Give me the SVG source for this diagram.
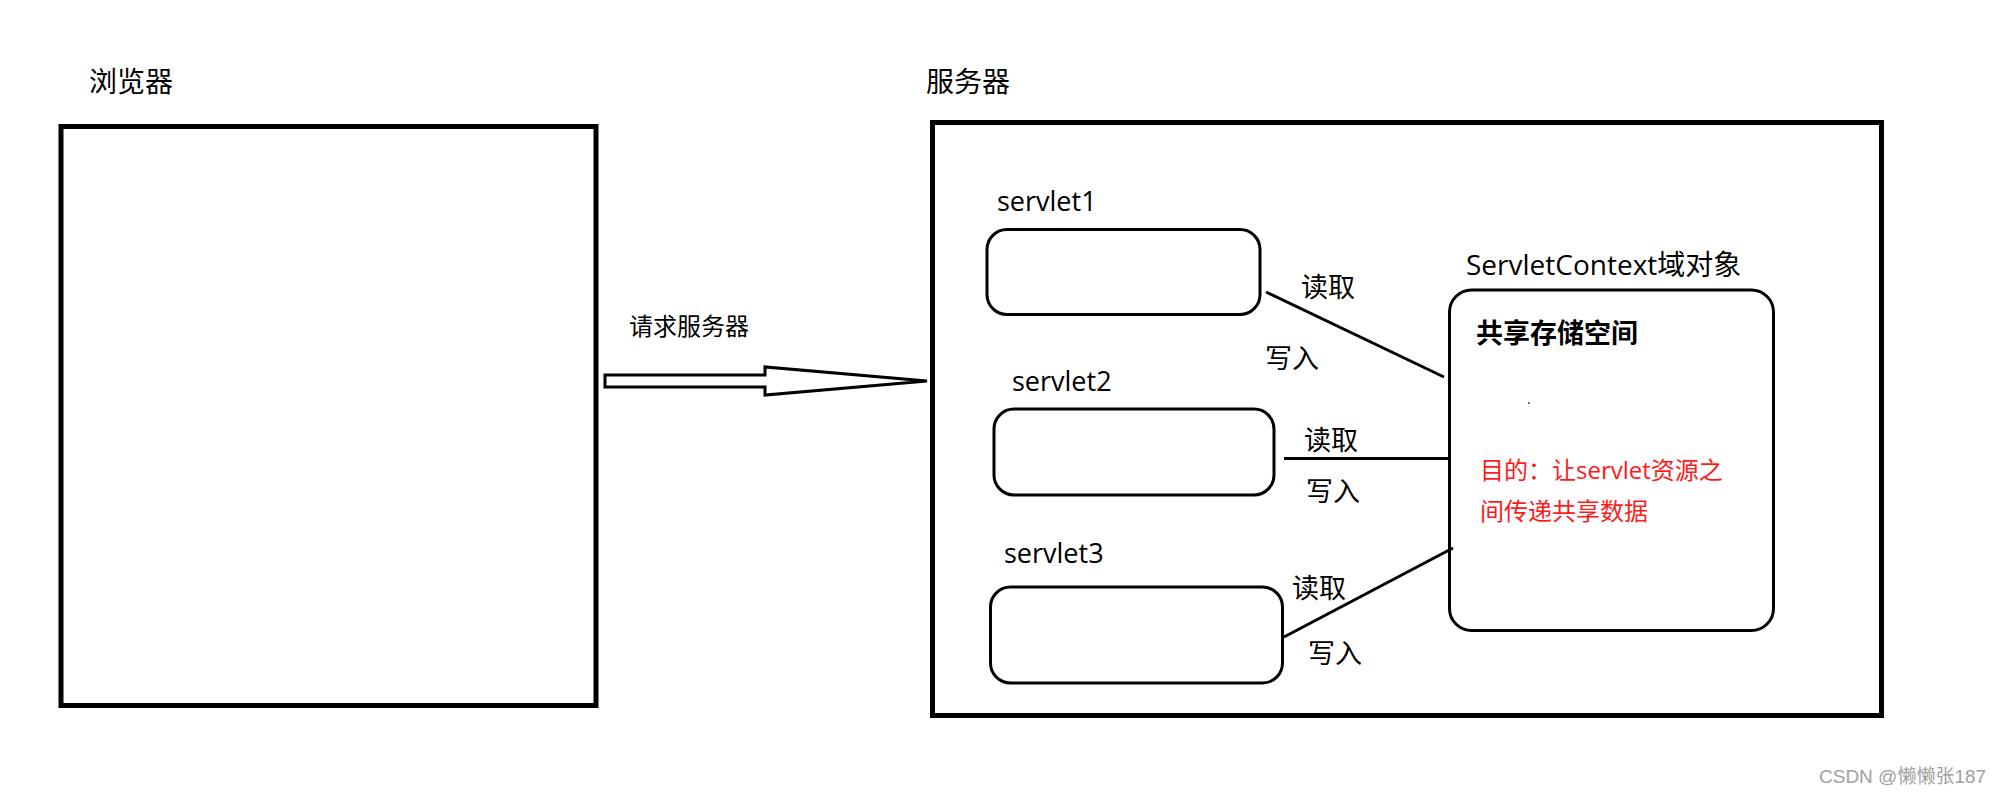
<svg xmlns="http://www.w3.org/2000/svg" width="2001" height="794" viewBox="0 0 2001 794">
<style>
.t{font-family:"Open Sans","Noto Sans CJK SC",sans-serif;font-size:27px;fill:#000}
.h{font-size:28px}
.s{font-size:24px}
.b{font-weight:bold}
.red{fill:#ff1a1a;font-size:24px}
.box{fill:#fff;stroke:#000;stroke-width:5}
.rr{fill:#fff;stroke:#000;stroke-width:3}
.ln{stroke:#000;stroke-width:3;fill:none}
.wm{font-family:"Liberation Sans","Noto Sans CJK SC",sans-serif;font-size:19px;fill:#a0a0a0}
</style>
<rect width="2001" height="794" fill="#fff"/>
<g id="browser">
<text class="t h" x="89" y="92">浏览器</text>
<rect class="box" x="61" y="126.5" width="535" height="579"/>
</g>
<g id="server">
<text class="t h" x="926" y="92">服务器</text>
<rect class="box" x="932.5" y="122.5" width="949" height="593"/>
</g>
<g id="servlet1">
<text class="t" x="997" y="211">servlet1</text>
<rect class="rr" x="987" y="229.5" width="273" height="85" rx="20"/>
</g>
<g id="servlet2">
<text class="t" x="1012" y="391">servlet2</text>
<rect class="rr" x="994" y="409" width="280" height="86" rx="20"/>
</g>
<g id="servlet3">
<text class="t" x="1004" y="563">servlet3</text>
<rect class="rr" x="990.5" y="587" width="292" height="96" rx="20"/>
</g>
<g id="servletcontext">
<text class="t h" x="1466" y="275">ServletContext域对象</text>
<rect class="rr" x="1449.5" y="290" width="324" height="340.5" rx="22"/>
<text class="t b" x="1476" y="343">共享存储空间</text>
<circle cx="1529" cy="403" r="1" fill="#444"/>
<text class="t red" x="1480" y="479">目的：让servlet资源之</text>
<text class="t red" x="1480" y="520">间传递共享数据</text>
</g>
<g id="connectors">
<polygon class="ln" points="605,375 765,375 765,367 927,381 765,395 765,387 605,387" fill="#fff"/>
<text class="t s" x="629" y="335">请求服务器</text>
<line class="ln" x1="1266" y1="292" x2="1444" y2="377"/>
<line class="ln" x1="1284" y1="458.5" x2="1449" y2="458.5"/>
<line class="ln" x1="1284" y1="637" x2="1453" y2="548"/>
<text class="t" x="1301" y="297">读取</text>
<text class="t" x="1265" y="368">写入</text>
<text class="t" x="1304" y="450">读取</text>
<text class="t" x="1306" y="501">写入</text>
<text class="t" x="1292" y="598">读取</text>
<text class="t" x="1308" y="663">写入</text>
</g>
<text class="wm" x="1819" y="783">CSDN @懒懒张187</text>
</svg>
